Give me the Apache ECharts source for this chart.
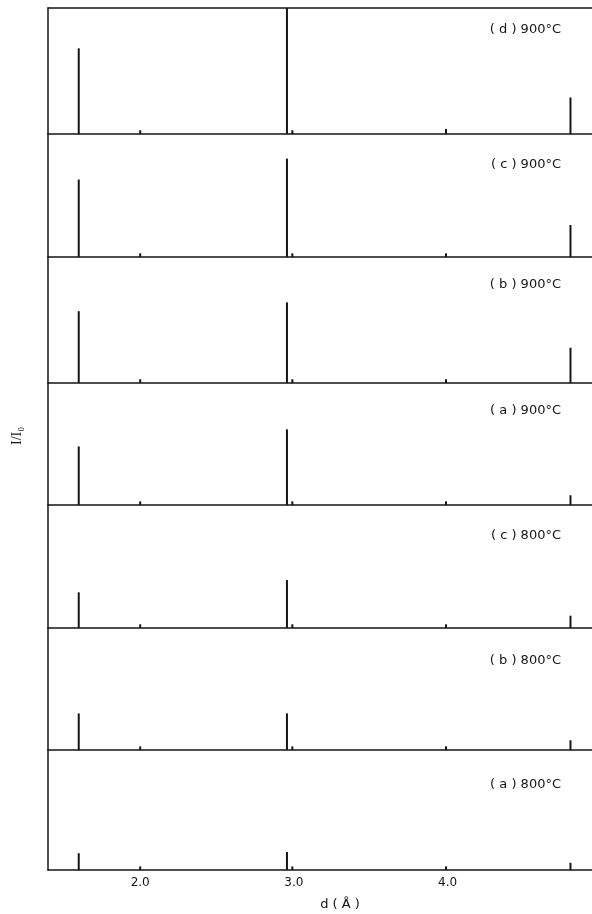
<!DOCTYPE html>
<html>
<head>
<meta charset="utf-8">
<script src="https://cdn.jsdelivr.net/npm/echarts@6/dist/echarts.min.js"></script>
<style>
  html, body { margin: 0; padding: 0; background: #fff; }
  #chart { width: 592px; height: 914px; }
</style>
</head>
<body>
<div id="chart"></div>
<script>
  // d-spacings (Å) of the reflections
  var peakD = [1.60, 2.00, 2.955, 2.99, 3.99, 4.80];
  // relative intensity I/Io of each reflection, panel by panel (top to bottom)
  var heightsD900 = [0.68, 0.03, 1.00, 0.03, 0.04, 0.29];
  var heightsC900 = [0.63, 0.03, 0.80, 0.03, 0.03, 0.26];
  var heightsB900 = [0.57, 0.03, 0.64, 0.03, 0.03, 0.28];
  var heightsA900 = [0.48, 0.03, 0.62, 0.03, 0.03, 0.08];
  var heightsC800 = [0.29, 0.03, 0.39, 0.03, 0.03, 0.10];
  var heightsB800 = [0.30, 0.03, 0.30, 0.03, 0.03, 0.08];
  var heightsA800 = [0.14, 0.03, 0.15, 0.03, 0.03, 0.06];
  var panelNames = ['( d ) 900°C', '( c ) 900°C', '( b ) 900°C', '( a ) 900°C', '( c ) 800°C', '( b ) 800°C', '( a ) 800°C'];
  var xTicks = [2.0, 3.0, 4.0];

  var panelHeights = [heightsD900, heightsC900, heightsB900, heightsA900, heightsC800, heightsB800, heightsA800];

  // layout of the stacked panels
  var panelTop0 = 8;
  var panelBases = [134, 257, 383, 505, 628, 750, 870];
  var labelOffset = [19, 28, 25, 25, 28, 30, 32];
  var ink = '#151515';

  function generateChart() {
    var myChart = echarts.init(document.getElementById('chart'));

    var grid = [], xAxis = [], yAxis = [], series = [], title = [];
    for (var i = 0; i < panelNames.length; i++) {
      var panelTop = i == 0 ? panelTop0 : panelBases[i - 1];
      var isLast = i == panelNames.length - 1;
      grid.push({ left: 48, right: 0, top: panelTop, height: panelBases[i] - panelTop });
      xAxis.push({
        gridIndex: i,
        type: 'value',
        min: 1.4,
        max: 4.94,
        splitLine: { show: false },
        axisLine: { show: true, onZero: false, lineStyle: { color: ink, width: 1.5 } },
        axisTick: { show: false },
        axisLabel: {
          show: isLast,
          customValues: xTicks,
          formatter: function (v) { return v.toFixed(1); },
          color: ink,
          fontSize: 12,
          fontFamily: 'DejaVu Sans',
          margin: 7
        }
      });
      yAxis.push({
        gridIndex: i,
        type: 'value',
        min: 0,
        max: 1,
        splitLine: { show: false },
        axisLine: { show: true, lineStyle: { color: ink, width: 1.5 } },
        axisTick: { show: false },
        axisLabel: { show: false }
      });
      series.push({
        type: 'bar',
        xAxisIndex: i,
        yAxisIndex: i,
        barWidth: 2,
        silent: true,
        itemStyle: { color: ink },
        data: peakD.map(function (d, k) { return [d, panelHeights[i][k]]; })
      });
      title.push({
        text: panelNames[i],
        right: 26,
        top: panelTop + labelOffset[i] - 9,
        textStyle: { color: ink, fontSize: 13, fontWeight: 'normal', fontFamily: 'DejaVu Sans' }
      });
    }
    // top frame line of the first panel
    xAxis.push({
      gridIndex: 0,
      type: 'value',
      position: 'top',
      min: 1.4,
      max: 4.94,
      splitLine: { show: false },
      axisLine: { show: true, onZero: false, lineStyle: { color: ink, width: 1.5 } },
      axisTick: { show: false },
      axisLabel: { show: false }
    });

    myChart.setOption({
      animation: false,
      title: title,
      grid: grid,
      xAxis: xAxis,
      yAxis: yAxis,
      series: series,
      graphic: [
        {
          type: 'text',
          x: 10,
          y: 445,
          rotation: Math.PI / 2,
          style: { text: 'I/I₀', fill: ink, fontSize: 14, fontFamily: 'Liberation Serif' }
        },
        {
          type: 'text',
          x: 340,
          y: 905,
          style: { text: 'd ( Å )', fill: ink, fontSize: 13, fontFamily: 'DejaVu Sans', align: 'center', verticalAlign: 'middle' }
        }
      ]
    });
  }

  generateChart();
</script>
</body>
</html>
